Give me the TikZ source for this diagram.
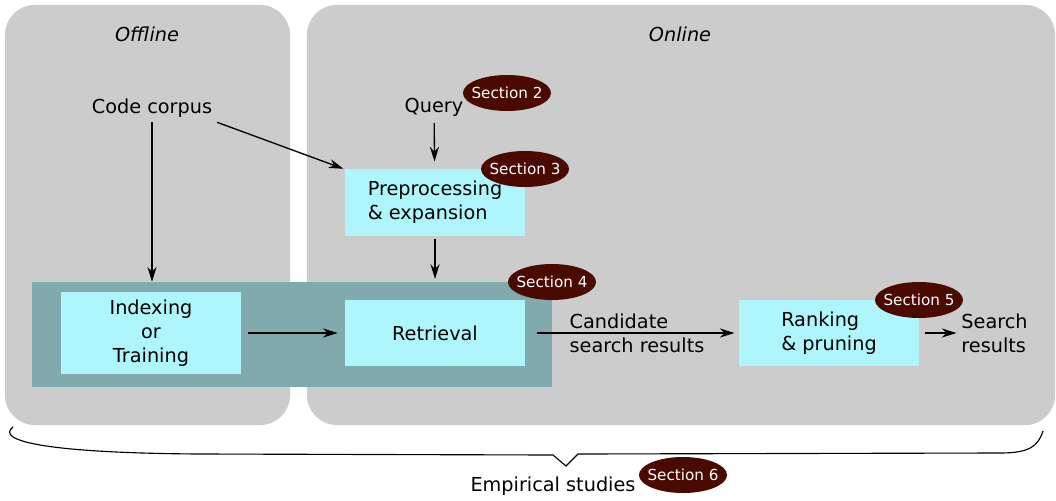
\documentclass[tikz,border=0pt]{standalone}
\usepackage{fontspec}
\setmainfont{DejaVu Sans}
\usetikzlibrary{shapes.geometric,arrows.meta}
\definecolor{panelgray}{RGB}{204,204,204}
\definecolor{boxcyan}{RGB}{175,245,252}
\definecolor{learnteal}{RGB}{128,170,173}
\definecolor{secred}{RGB}{74,10,0}

\begin{document}
\begin{tikzpicture}[x=0.025cm,y=-0.025cm,
		font=\fontsize{13.7}{17}\selectfont,
		panel/.style={fill=panelgray,rounded corners=0.75cm,minimum height=10.5cm,inner sep=0},
		box/.style={fill=boxcyan,minimum width=4.5cm,minimum height=1.65cm,align=left,inner sep=0},
		sect/.style={ellipse,fill=secred,text=white,minimum width=2.2cm,minimum height=0.9cm,inner xsep=-3.2pt,inner ysep=0,font=\fontsize{10.8}{13}\selectfont},
		flow/.style={-{Stealth[length=10.5pt,width=6.5pt,inset=3.5pt]},line width=0.95pt}]
		\useasboundingbox (0,0) rectangle (1056,500);
		% offline and online panels
		\node[panel,minimum width=7.125cm] (offline) at (147.5,215) {};
		\node[panel,minimum width=18.7cm] (online) at (681,215) {};
		\node at (147,34) {\itshape Offline};
		\node at (680,34) {\itshape Online};
		% index and retrieval region
		\node[fill=learnteal,minimum width=13cm,minimum height=2.625cm,inner sep=0] (learn) at (292,334.5) {};
		% boxes
		\node[box] (prep) at (435,202.5) {Preprocessing\\\& expansion};
		\node[box,align=center,minimum height=2.05cm] (idx) at (151,333) {Indexing\\or\\Training};
		\node[box] (ret) at (435,333) {Retrieval};
		\node[box] (rank) at (829,333) {Ranking\\\& pruning};
		% texts
		\node (corpus) at (152,108) {Code corpus};
		\node (query) at (434,107) {Query};
		\node[align=left] (results) at (994.5,333) {Search\\results};
		% arrows
		\draw[flow] (corpus.south) -- (corpus.south |- learn.north);
		\draw[flow,shorten >=1pt] (corpus.south east) -- (prep.north west);
		\draw[flow,shorten <=1.5pt,shorten >=5.5pt] (query) -- (prep);
		\draw[flow,shorten <=2pt,shorten >=2pt] (prep.south) -- (prep.south |- learn.north);
		\draw[flow,shorten <=5pt,shorten >=5pt] (idx) -- (ret);
		\draw[flow,shorten <=8.5pt,shorten >=3pt] (ret) -- (rank);
		\draw[flow,shorten <=4pt] (rank) -- (results);
		\node[align=left] (cand) at (637,333) {Candidate\\search results};
		% brace
		\draw[line width=0.8pt] (13,427) .. controls (-4,440) and (40,453) .. (200,454)
			-- (553,455) -- (566,466) -- (578,454) -- (1000,453)
			.. controls (1030,453) and (1038,446) .. (1043,431);
		\node (studies) at (553,486) {Empirical studies};
		% section labels
		\node[sect] (sec2) at (507,93) {Section 2};
		\node[sect] (sec3) at (525,169) {Section 3};
		\node[sect] (sec4) at (552,282) {Section 4};
		\node[sect] (sec5) at (919,300) {Section 5};
		\node[sect] (sec6) at (683,475) {Section 6};
	\end{tikzpicture}
\end{document}
